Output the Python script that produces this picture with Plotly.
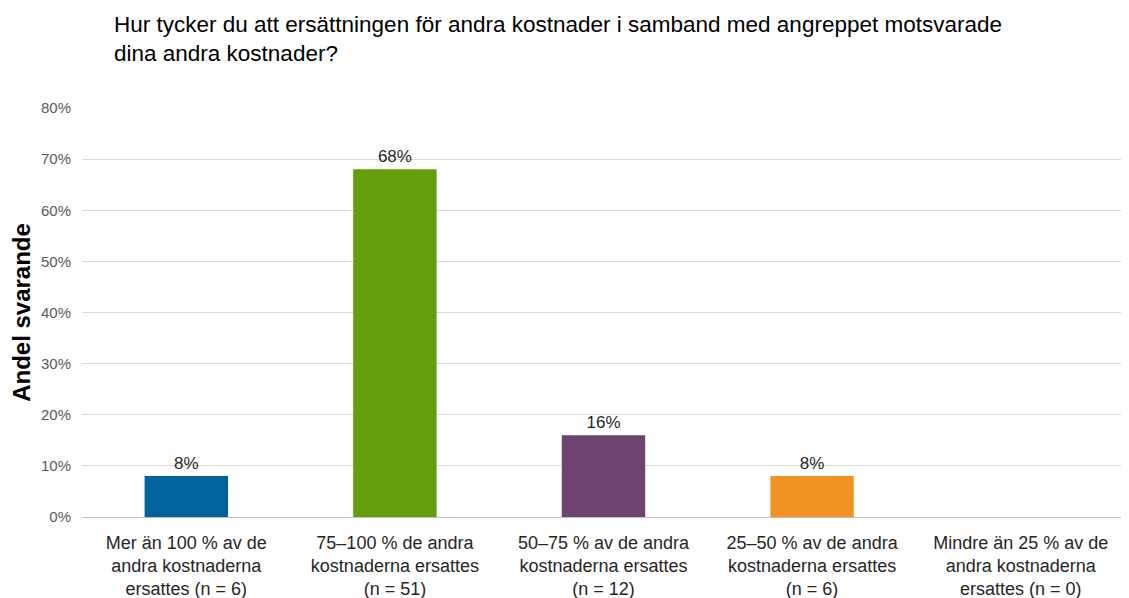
import plotly.graph_objects as go

categories = [
    "Mer än 100 % av de<br>andra kostnaderna<br>ersattes (n = 6)",
    "75–100 % de andra<br>kostnaderna ersattes<br>(n = 51)",
    "50–75 % av de andra<br>kostnaderna ersattes<br>(n = 12)",
    "25–50 % av de andra<br>kostnaderna ersattes<br>(n = 6)",
    "Mindre än 25 % av de<br>andra kostnaderna<br>ersattes (n = 0)",
]
values = [0.08, 0.68, 0.16, 0.08, 0.0]
labels = ["8%", "68%", "16%", "8%", ""]
colors = ["#00649A", "#659E0D", "#6D4470", "#F39323", "#999999"]
yticks = [0, 0.1, 0.2, 0.3, 0.4, 0.5, 0.6, 0.7, 0.8]

W, H = 1121, 590

fig = go.Figure(go.Bar(
    x=categories, y=values, text=labels, textposition="outside",
    marker=dict(color=colors, line=dict(width=0)),
    textfont=dict(size=17, color="#262626", family="Liberation Sans, Arial"),
    width=0.4, cliponaxis=False,
))

fig.update_layout(
    width=W, height=H,
    margin=dict(l=74, r=4, t=100, b=81),
    plot_bgcolor="white", paper_bgcolor="white",
    font=dict(family="Liberation Sans, Arial", color="#262626"),
    showlegend=False,
    title=dict(
        text="Hur tycker du att ersättningen för andra kostnader i samband med angreppet motsvarade<br>dina andra kostnader?",
        x=106/W, xanchor="left", yref="container", y=1 - 24/H, yanchor="top",
        font=dict(size=22.5, family="Liberation Sans, Arial", color="#000000"),
    ),
    xaxis=dict(
        tickfont=dict(size=18, color="#262626"), showline=True, linecolor="#BFBFBF",
        linewidth=1, ticks="", showgrid=False, automargin=False, ticklabelstandoff=9,
    ),
    yaxis=dict(
        range=[0, 0.8], tickvals=yticks, tickformat=".0%", gridcolor="#D9D9D9",
        tickfont=dict(size=15, color="#595959"), zeroline=False, ticks="",
        ticklabelstandoff=10, automargin=False,
        title=dict(text="<b>Andel svarande</b>", font=dict(size=24, color="#000000"), standoff=4),
    ),
)

fig.write_html("out.html")
